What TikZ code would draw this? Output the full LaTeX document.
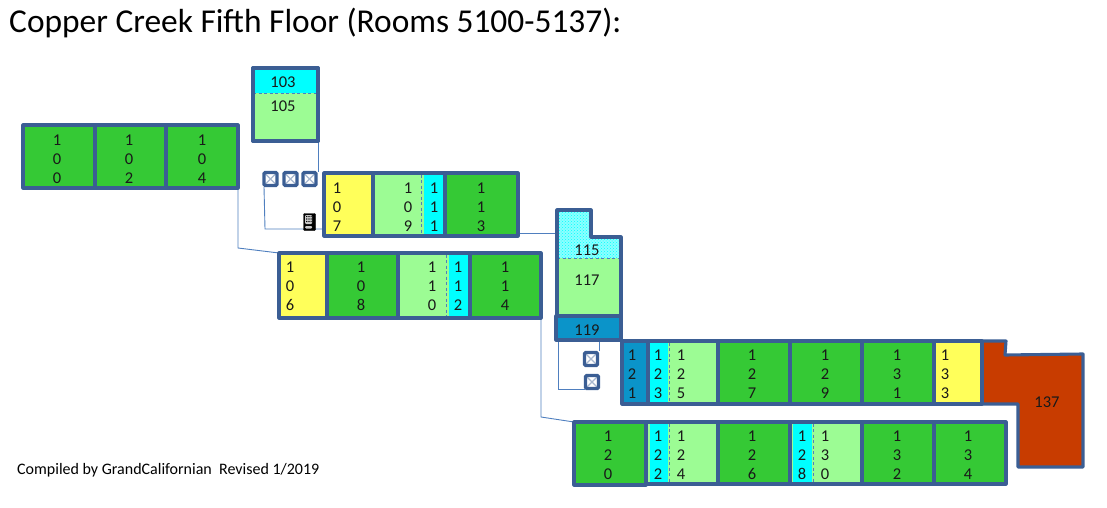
\documentclass[tikz,border=0pt]{standalone}
\usepackage{fontspec}
\setmainfont{Carlito}
\usetikzlibrary{patterns}
\definecolor{wallc}{HTML}{3B5E94}
\definecolor{linkc}{HTML}{4F7FBF}
\definecolor{grn}{HTML}{35C935}
\definecolor{lgrn}{HTML}{9CFC94}
\definecolor{yel}{HTML}{FFFF5A}
\definecolor{cyn}{HTML}{00FFFF}
\definecolor{blu}{HTML}{0B94C9}
\definecolor{rust}{HTML}{C83C00}
\tikzset{
  room/.style={draw=wallc,line width=3.1pt,line join=round,inner sep=0pt,outer sep=0pt},
  alcove/.style={fill=cyn,draw=none,inner sep=0pt,outer sep=0pt},
  divide/.style={draw=linkc,line width=0.8pt,dash pattern=on 3pt off 2.5pt},
  link/.style={draw=linkc,line width=0.9pt},
  lab/.style={font=\fontsize{16.5}{19}\selectfont,align=center,inner sep=0pt,text=black!90},
  lift/.style={draw=wallc,fill=white,line width=3.1pt,rounded corners=1pt,minimum size=13pt,inner sep=0pt,outer sep=1.5pt,
    path picture={\draw[wallc!45,line width=1.2pt] (path picture bounding box.south west) -- (path picture bounding box.north east)
      (path picture bounding box.north west) -- (path picture bounding box.south east);}},
}
\newcommand{\rmbox}[6]{%
  \pgfmathsetmacro{\cxx}{(#2+#4)/2}\pgfmathsetmacro{\cyy}{(#3+#5)/2}%
  \pgfmathsetmacro{\www}{#4-#2}\pgfmathsetmacro{\hhh}{#5-#3}%
  \node[room,fill=#6,minimum width=\www pt,minimum height=\hhh pt] (#1) at (\cxx,\cyy) {};}
\newcommand{\alc}[5]{%
  \pgfmathsetmacro{\cxx}{(#2+#4)/2}\pgfmathsetmacro{\cyy}{(#3+#5)/2}%
  \pgfmathsetmacro{\www}{#4-#2}\pgfmathsetmacro{\hhh}{#5-#3}%
  \node[alcove,minimum width=\www pt,minimum height=\hhh pt] (#1) at (\cxx,\cyy) {};}
\newcommand{\tlab}[5]{\node[lab] (#1) at (#2,#3) {#4\\#5};}
\begin{document}
\begin{tikzpicture}[x=1pt,y=-1pt]
\useasboundingbox (0,0) rectangle (1107,508);
\node[anchor=base west,inner sep=0pt,font=\fontsize{33.4}{36}\selectfont] (title) at (9,33) {Copper Creek Fifth Floor (Rooms 5100-5137):};
\node[anchor=base west,inner sep=0pt,font=\fontsize{16}{18}\selectfont] (credit) at (17,474) {Compiled by GrandCalifornian\ \ Revised 1/2019};

% thin connectors
\coordinate (j1) at (238,248);
\coordinate (j2) at (265,229);
\coordinate (j3) at (541,417);
\coordinate (j4) at (558,389);
\coordinate (j5) at (599,340);
\coordinate (a1) at (238,188);
\coordinate (a2) at (279,253);
\coordinate (a3) at (518,233);
\coordinate (a4) at (557,233);
\coordinate (a5) at (324,229);
\coordinate (a6) at (318,141);
\coordinate (a7) at (318,172);
\coordinate (a8) at (541,318);
\coordinate (a9) at (574,422);
\coordinate (a10) at (558,340);
\coordinate (a11) at (585,389);
\coordinate (a12) at (264,187);
\coordinate (a13) at (599,351);
\draw[link] (a1) -- (j1) -- (a2);
\draw[link] (a3) -- (a4);
\draw[link] (a5) -- (j2) -- (a12);
\draw[link] (a6) -- (a7);
\draw[link] (a8) -- (j3) -- (a9);
\draw[link] (a10) -- (j4) -- (a11);
\draw[link] (j5) -- (a13);

% top-left block
\rmbox{r100}{23}{125}{95}{188}{grn}
\rmbox{r102}{95}{125}{166}{188}{grn}
\rmbox{r104}{166}{125}{238}{188}{grn}
\tlab{t100}{57}{159}{1\\0}{0}
\tlab{t102}{129}{159}{1\\0}{2}
\tlab{t104}{202}{159}{1\\0}{4}

% 103/105
\rmbox{r105}{253}{68}{318}{141}{lgrn}
\alc{r103}{254.5}{69.5}{316.5}{93}
\draw[divide] (r105.west |- r103.south) -- (r105.east |- r103.south);
\draw[wallc,line width=3.1pt,line join=round] (r105.south west) rectangle (r105.north east);
\node[lab] (t103) at (283,82) {103};
\node[lab] (t105) at (283,106) {105};

% lifts
\node[lift] (e1) at (270.5,179) {};
\node[lift] (e2) at (290.5,179) {};
\node[lift] (e3) at (309.5,179) {};
\node[lift] (e4) at (591,359) {};
\node[lift] (e5) at (592,382) {};

% 107 row
\rmbox{r107}{324}{173}{373}{236}{yel}
\rmbox{r109}{373}{173}{445}{236}{lgrn}
\alc{r111}{424}{174.5}{443.5}{234.5}
\draw[divide] (421,174.5) -- (421,234.5);
\draw[wallc,line width=3.1pt,line join=round] (r109.south west) rectangle (r109.north east);
\rmbox{r113}{445}{173}{518}{236}{grn}
\tlab{t107}{337}{207}{1\\0}{7}
\tlab{t109}{408}{207}{1\\0}{9}
\tlab{t111}{434}{207}{1\\1}{1}
\tlab{t113}{481}{207}{1\\1}{3}

% vending machine
\node[draw=black,fill=black,minimum width=12pt,minimum height=17pt,inner sep=0pt,rounded corners=1pt,
  path picture={
  \fill[black!20] ([xshift=-4.5pt,yshift=7pt]path picture bounding box.center) rectangle +(7pt,-9pt);
  \foreach \vx in {-2.8,-0.6,1.6}\foreach \vy in {0.5,3,5.5}{\fill[black] ([xshift=\vx pt,yshift=\vy pt]path picture bounding box.center) +(-.6pt,-.6pt) rectangle +(.6pt,.6pt);}
  \fill[black!20] ([xshift=-4.5pt,yshift=-4pt]path picture bounding box.center) rectangle +(7pt,-2.5pt);}] (vend) at (309.5,222) {};

% 106 row
\rmbox{r106}{279}{253}{327}{318}{yel}
\rmbox{r108}{327}{253}{398}{318}{grn}
\rmbox{r110}{398}{253}{470}{318}{lgrn}
\alc{r112}{449}{254.5}{468.5}{316.5}
\draw[divide] (446,254.5) -- (446,316.5);
\draw[wallc,line width=3.1pt,line join=round] (r110.south west) rectangle (r110.north east);
\rmbox{r114}{470}{253}{541}{318}{grn}
\tlab{t106}{290}{286}{1\\0}{6}
\tlab{t108}{361}{286}{1\\0}{8}
\tlab{t110}{432}{286}{1\\1}{0}
\tlab{t112}{458}{286}{1\\1}{2}
\tlab{t114}{505}{286}{1\\1}{4}

% 115/117/119
\fill[lgrn] (557,258) rectangle (621,315);
\fill[cyn!45!white] (557,211) -- (591,211) -- (591,237) -- (621,237) -- (621,258) -- (557,258) -- cycle;
\fill[pattern=crosshatch dots,pattern color=cyn] (557,211) -- (591,211) -- (591,237) -- (621,237) -- (621,258) -- (557,258) -- cycle;
\draw[divide] (557,258) -- (621,258);
\draw[room] (557,210) -- (591,210) -- (591,237) -- (621,237) -- (621,316) -- (557,316) -- cycle;
\rmbox{r119}{556}{316}{621}{340}{blu}
\node[lab] (t115) at (587,250) {115};
\node[lab] (t117) at (587,280) {117};
\node[lab] (t119) at (587,330) {119};

% 121 row
\draw[room,fill=rust] (982,341) -- (1006,341) -- (1005,355) -- (1083,354) -- (1083,467) -- (1018,467) -- (1018,404) -- (982,404) -- cycle;
\node[lab] (t137) at (1047,402) {137};
\rmbox{r121}{622}{341}{648}{404}{blu}
\rmbox{r125}{648}{341}{718}{404}{lgrn}
\alc{r123}{650}{342.5}{668}{402.5}
\draw[divide] (669,342.5) -- (669,402.5);
\draw[wallc,line width=3.1pt,line join=round] (r125.south west) rectangle (r125.north east);
\rmbox{r127}{718}{341}{790}{404}{grn}
\rmbox{r129}{790}{341}{862}{404}{grn}
\rmbox{r131}{862}{341}{934}{404}{grn}
\rmbox{r133}{934}{341}{982}{404}{yel}
\tlab{t121}{632}{374}{1\\2}{1}
\tlab{t123}{658}{374}{1\\2}{3}
\tlab{t125}{681}{374}{1\\2}{5}
\tlab{t127}{752}{374}{1\\2}{7}
\tlab{t129}{825}{374}{1\\2}{9}
\tlab{t131}{897}{374}{1\\3}{1}
\tlab{t133}{945}{374}{1\\3}{3}

% 120 row
\rmbox{r120}{574}{422}{646}{485}{grn}
\rmbox{r124}{646}{422}{718}{484}{lgrn}
\alc{r122}{650}{423.5}{668}{482.5}
\draw[divide] (669,423.5) -- (669,482.5);
\draw[wallc,line width=3.1pt,line join=round] (r124.south west) rectangle (r124.north east);
\rmbox{r126}{718}{422}{790}{484}{grn}
\rmbox{r130}{790}{422}{862}{484}{lgrn}
\alc{r128}{793}{423.5}{812}{482.5}
\draw[divide] (813,423.5) -- (813,482.5);
\draw[wallc,line width=3.1pt,line join=round] (r130.south west) rectangle (r130.north east);
\rmbox{r132}{862}{422}{934}{484}{grn}
\rmbox{r134}{934}{422}{1006}{484}{grn}
\tlab{t120}{608}{455}{1\\2}{0}
\tlab{t122}{658}{455}{1\\2}{2}
\tlab{t124}{681}{455}{1\\2}{4}
\tlab{t126}{752}{455}{1\\2}{6}
\tlab{t128}{802}{455}{1\\2}{8}
\tlab{t130}{825}{455}{1\\3}{0}
\tlab{t132}{897}{455}{1\\3}{2}
\tlab{t134}{968}{455}{1\\3}{4}
\end{tikzpicture}
\end{document}
